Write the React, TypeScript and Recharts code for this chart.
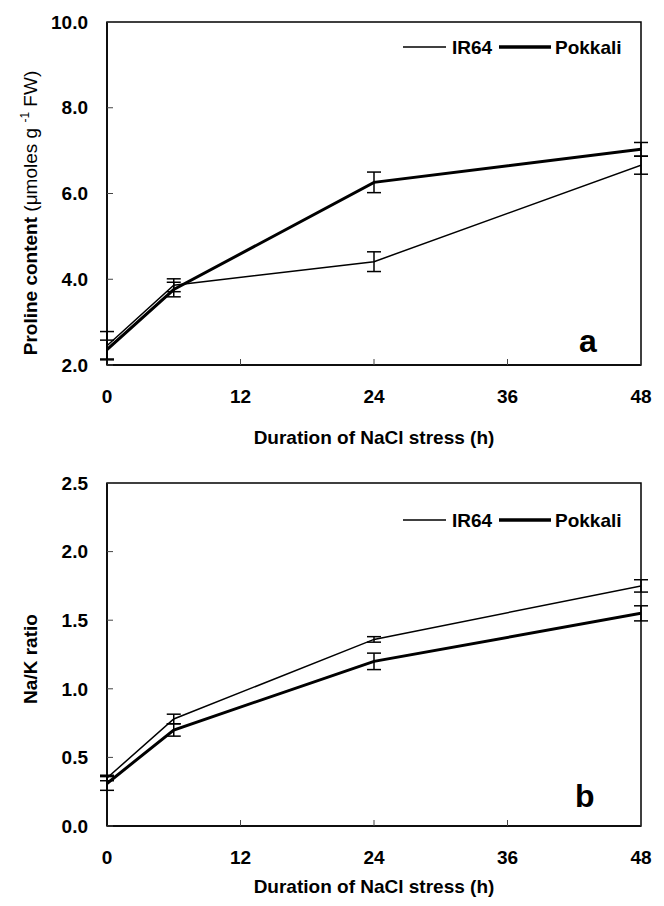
import React from "react";
import { LineChart, Line, XAxis, YAxis, ErrorBar, ReferenceArea } from "recharts";

const hours = [0, 6, 24, 48];
const hourTicks = [0, 12, 24, 36, 48];

const prolineIR64 = [2.45, 3.86, 4.41, 6.66];
const prolineIR64Err = [0.33, 0.15, 0.23, 0.21];
const prolinePokkali = [2.36, 3.76, 6.26, 7.03];
const prolinePokkaliErr = [0.22, 0.17, 0.24, 0.16];
const prolineTicks = [2, 4, 6, 8, 10];

const naKIR64 = [0.35, 0.78, 1.36, 1.75];
const naKIR64Err = [0.02, 0.035, 0.02, 0.045];
const naKPokkali = [0.31, 0.7, 1.2, 1.55];
const naKPokkaliErr = [0.05, 0.045, 0.06, 0.055];
const naKTicks = [0, 0.5, 1, 1.5, 2, 2.5];

const FONT = "'Liberation Sans', Arial, Helvetica, sans-serif";
const W = 664;

const tickStyle = { fill: "#000", fontSize: 19, fontWeight: "bold", fontFamily: FONT };

interface PanelProps {
  ir64: number[];
  ir64Err: number[];
  pokkali: number[];
  pokkaliErr: number[];
  yTicks: number[];
  height: number;
  titleOffset: number;
  legendY: number;
  letter: string;
  letterX: number;
  letterY: number;
  yLabelY: number;
  yLabel: React.ReactNode;
}

function Panel(p: PanelProps) {
  const data = hours.map((h, i) => ({
    h,
    ir64: p.ir64[i],
    ir64Err: p.ir64Err[i],
    pokkali: p.pokkali[i],
    pokkaliErr: p.pokkaliErr[i],
  }));
  const yMin = p.yTicks[0];
  const yMax = p.yTicks[p.yTicks.length - 1];

  return (
    <div style={{ position: "relative", width: W, height: p.height }}>
      <LineChart
        width={W}
        height={p.height}
        data={data}
        margin={{ top: 22, right: 23, bottom: 0, left: 47 }}
      >
        <XAxis
          dataKey="h"
          type="number"
          domain={[0, 48]}
          ticks={hourTicks}
          allowDataOverflow
          height={p.height - 22 - 343}
          tickSize={-6}
          tickMargin={31}
          tickLine={{ stroke: "#444", strokeWidth: 1 }}
          axisLine={{ stroke: "#000", strokeWidth: 1.5 }}
          tick={tickStyle}
          label={{
            value: "Duration of NaCl stress (h)",
            position: "insideTop",
            offset: p.titleOffset,
            fill: "#000",
            fontSize: 19,
            fontWeight: "bold",
            fontFamily: FONT,
          }}
        />
        <YAxis
          type="number"
          domain={[yMin, yMax]}
          ticks={p.yTicks}
          allowDataOverflow
          width={60}
          tickSize={-6}
          tickMargin={25}
          tickLine={{ stroke: "#444", strokeWidth: 1 }}
          axisLine={{ stroke: "#000", strokeWidth: 1.5 }}
          tick={tickStyle}
          tickFormatter={(v: number) => v.toFixed(1)}
        />
        <ReferenceArea
          x1={0}
          x2={48}
          y1={yMin}
          y2={yMax}
          fill="none"
          fillOpacity={0}
          stroke="#000"
          strokeWidth={1.5}
          ifOverflow="visible"
        />
        <Line
          dataKey="ir64"
          stroke="#000"
          strokeWidth={1.5}
          dot={false}
          activeDot={false}
          isAnimationActive={false}
        >
          <ErrorBar dataKey="ir64Err" direction="y" width={7} stroke="#000" strokeWidth={1.5} isAnimationActive={false} />
        </Line>
        <Line
          dataKey="pokkali"
          stroke="#000"
          strokeWidth={3}
          dot={false}
          activeDot={false}
          isAnimationActive={false}
        >
          <ErrorBar dataKey="pokkaliErr" direction="y" width={7} stroke="#000" strokeWidth={1.5} isAnimationActive={false} />
        </Line>
      </LineChart>
      <svg
        width={W}
        height={p.height}
        style={{ position: "absolute", left: 0, top: 0, pointerEvents: "none" }}
        fontFamily={FONT}
      >
        <line x1={403} x2={446} y1={p.legendY} y2={p.legendY} stroke="#000" strokeWidth={1.5} />
        <text x={452} y={p.legendY + 7} fontSize={19} fontWeight="bold">IR64</text>
        <line x1={499} x2={551} y1={p.legendY} y2={p.legendY} stroke="#000" strokeWidth={3.5} />
        <text x={555} y={p.legendY + 7} fontSize={19} fontWeight="bold">Pokkali</text>
        <text x={p.letterX} y={p.letterY} fontSize={32} fontWeight="bold">{p.letter}</text>
        <text transform={`translate(37, ${p.yLabelY}) rotate(-90)`} textAnchor="middle" fontSize={19}>
          {p.yLabel}
        </text>
      </svg>
    </div>
  );
}

export default function App() {
  return (
    <div style={{ position: "absolute", left: 0, top: 0, width: W, height: 906, background: "#fff" }}>
      <Panel
        ir64={prolineIR64}
        ir64Err={prolineIR64Err}
        pokkali={prolinePokkali}
        pokkaliErr={prolinePokkaliErr}
        yTicks={prolineTicks}
        height={461}
        titleOffset={66}
        legendY={47}
        letter="a"
        letterX={579}
        letterY={352}
        yLabelY={213}
        yLabel={
          <>
            <tspan fontWeight="bold">Proline content</tspan>
            <tspan> (μmoles g </tspan>
            <tspan fontSize={12} dy={-8}>-1</tspan>
            <tspan dy={8}> FW)</tspan>
          </>
        }
      />
      <Panel
        ir64={naKIR64}
        ir64Err={naKIR64Err}
        pokkali={naKPokkali}
        pokkaliErr={naKPokkaliErr}
        yTicks={naKTicks}
        height={445}
        titleOffset={54}
        legendY={59}
        letter="b"
        letterX={575}
        letterY={346}
        yLabelY={198}
        yLabel={<tspan fontWeight="bold">Na/K ratio</tspan>}
      />
    </div>
  );
}
